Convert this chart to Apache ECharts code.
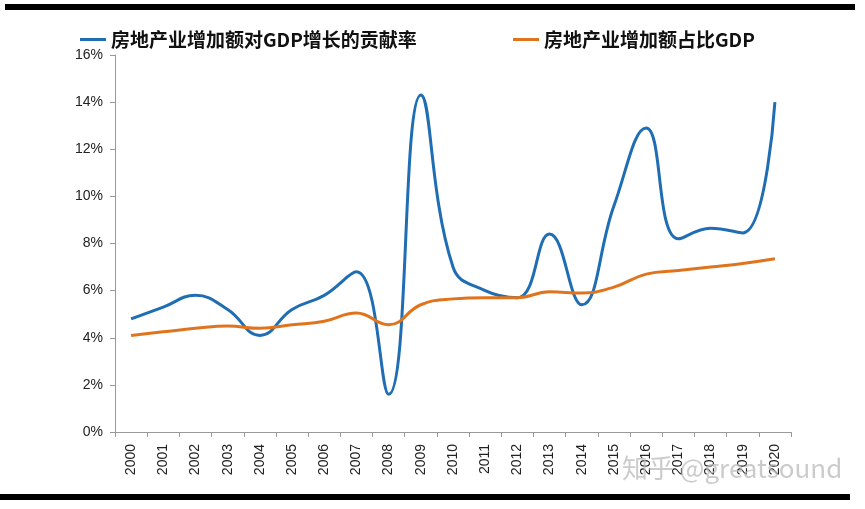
<!DOCTYPE html>
<html><head><meta charset="utf-8">
<script src="https://cdn.jsdelivr.net/npm/echarts@6/dist/echarts.min.js"></script>
<style>html,body{margin:0;padding:0;background:#fff}#c{width:865px;height:509px}</style>
</head><body><div id="c"></div>
<script>
const years = ['2000','2001','2002','2003','2004','2005','2006','2007','2008','2009','2010','2011','2012','2013','2014','2015','2016','2017','2018','2019','2020'];
const contribution = [4.8,5.3,5.8,5.2,4.1,5.2,5.8,6.8,1.6,14.3,7.0,6.0,5.7,8.4,5.4,9.6,12.9,8.2,8.65,8.45,14.0];
const share = [4.1,4.25,4.4,4.5,4.4,4.55,4.7,5.05,4.55,5.4,5.65,5.7,5.7,5.95,5.9,6.15,6.7,6.85,7.0,7.15,7.35];
const yTicks = [0,2,4,6,8,10,12,14,16];
const names = ['房地产业增加额对GDP增长的贡献率','房地产业增加额占比GDP'];

const legendText = {fontFamily:'Noto Sans CJK SC', fontWeight:'bold', fontSize:19, color:'#111'};
const chart = echarts.init(document.getElementById('c'));
chart.setOption({
  animation:false,
  legend:[
    {top:25, left:75, itemWidth:26, itemHeight:3, icon:'rect', textStyle:legendText, data:[names[0]]},
    {top:25, left:508, itemWidth:26, itemHeight:3, icon:'rect', textStyle:legendText, data:[names[1]]}
  ],
  grid:{left:115, right:74, top:55, bottom:77},
  xAxis:{
    type:'category', data:years, boundaryGap:true,
    axisLine:{lineStyle:{color:'#999'}},
    axisTick:{show:true, lineStyle:{color:'#999'}, length:5},
    axisLabel:{rotate:90, color:'#222', fontFamily:'Liberation Sans', fontSize:14, margin:12}
  },
  yAxis:{
    type:'value', min:0, max:16, interval:2,
    axisLine:{show:true, lineStyle:{color:'#999'}},
    axisTick:{show:true, lineStyle:{color:'#999'}, length:5},
    splitLine:{show:false},
    axisLabel:{formatter:v=>yTicks.includes(v)?v+'%':'', color:'#222', fontFamily:'Liberation Sans', fontSize:14, margin:12}
  },
  series:[
    {name:names[0], type:'line', data:contribution, smooth:0.45, showSymbol:false,
     lineStyle:{color:'#1f6db2', width:3}, itemStyle:{color:'#1f6db2'}},
    {name:names[1], type:'line', data:share, smooth:0.45, showSymbol:false,
     lineStyle:{color:'#e0741d', width:3}, itemStyle:{color:'#e0741d'}}
  ],
  graphic:[
    {type:'rect', shape:{x:5,y:4,width:850,height:6}, style:{fill:'#000'}},
    {type:'rect', shape:{x:0,y:494,width:850,height:6}, style:{fill:'#000'}},
    {type:'text', left:622, top:455, style:{text:'知乎 @greatsound', fill:'rgba(185,185,185,0.75)', font:'26px "Noto Sans CJK SC"'}, z:100}
  ]
});
</script></body></html>
